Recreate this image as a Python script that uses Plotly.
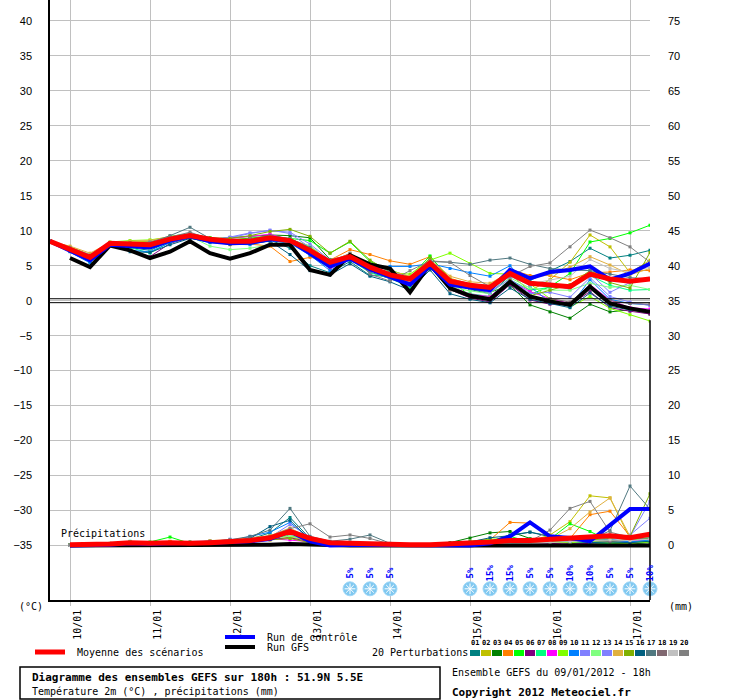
import plotly.graph_objects as go

# forecast steps (hours after 09/01/2012 18h)
hours = [0, 6, 12, 18, 24, 30, 36, 42, 48, 54, 60, 66, 72, 78, 84, 90,
         96, 102, 108, 114, 120, 126, 132, 138, 144, 150, 156, 162, 168, 174, 180]
day_hours = [6, 30, 54, 78, 102, 126, 150, 174]
day_labels = ["10/01", "11/01", "12/01", "13/01", "14/01", "15/01", "16/01", "17/01"]

# 2m temperature (°C)
mean_t = [8.5, 7.4, 6.2, 8.2, 8.1, 8.0, 8.8, 9.3, 8.8, 8.5, 8.5, 9.0, 8.6, 7.2, 5.5, 6.3,
          4.8, 3.7, 3.1, 5.4, 2.8, 2.2, 1.9, 3.9, 2.5, 2.2, 2.0, 3.8, 3.1, 2.8, 3.1]
control_t = [8.5, 7.2, 5.8, 8.0, 7.8, 7.6, 8.6, 9.2, 8.5, 8.2, 8.3, 8.8, 8.6, 6.8, 4.9, 6.0,
             4.5, 3.4, 2.3, 5.0, 2.3, 1.9, 1.5, 4.4, 3.2, 4.1, 4.4, 4.9, 3.0, 3.9, 5.3]
gfs_t = [None, 6.1, 4.8, 7.9, 7.2, 6.1, 7.0, 8.5, 6.8, 6.0, 6.8, 8.0, 8.0, 4.4, 3.7, 6.5,
         5.2, 4.6, 1.2, 5.2, 1.8, 0.7, 0.2, 2.7, 0.6, -0.1, -0.6, 2.0, -0.4, -1.1, -1.6]

t01 = [8.5, 7.3, 5.7, 8.1, 7.6, 7.2, 8.5, 9.3, 8.6, 8.2, 8.4, 8.7, 7.5, 5.0, 4.0, 5.6, 3.6, 3.5, 2.5, 5.2, 2.8, 1.6, 1.0, 3.6, 2.9, 4.3, 5.6, 7.5, 6.1, 6.5, 7.2]
t02 = [8.5, 7.7, 6.6, 8.3, 8.4, 8.5, 8.9, 9.2, 8.7, 8.6, 8.9, 9.3, 8.8, 7.8, 5.6, 6.7, 4.6, 4.0, 3.3, 5.6, 2.5, 2.0, 1.5, 3.8, 1.4, 3.0, 5.5, 9.4, 7.7, 4.0, 5.8]
t03 = [8.5, 7.4, 6.0, 8.2, 8.0, 7.9, 8.6, 9.0, 8.8, 9.0, 9.1, 9.4, 9.3, 9.0, 5.9, 6.4, 4.4, 3.6, 3.0, 5.8, 2.4, 1.7, 1.2, 2.2, -0.6, -1.6, -2.5, -0.5, -1.6, -1.3, -1.9]
t04 = [8.5, 7.6, 6.4, 8.2, 8.3, 8.2, 8.8, 9.4, 8.7, 8.0, 8.1, 7.8, 5.6, 6.2, 5.8, 7.3, 6.6, 5.7, 5.2, 6.3, 3.2, 2.4, 2.2, 4.5, 3.6, 3.6, 3.0, 4.0, 4.1, 4.4, 4.3]
t05 = [8.5, 7.2, 5.9, 8.2, 8.1, 8.2, 9.2, 9.6, 9.0, 8.7, 8.9, 9.2, 8.9, 8.6, 6.8, 8.4, 5.6, 4.4, 3.4, 6.4, 3.0, 0.7, 0.2, 2.6, 0.9, 2.0, 3.9, 8.4, 8.9, 9.7, 10.8]
t06 = [8.5, 7.1, 5.6, 8.1, 7.3, 6.3, 8.2, 9.0, 8.5, 8.3, 8.6, 9.0, 8.6, 6.9, 4.9, 6.1, 4.1, 3.1, 2.2, 4.9, 1.6, 0.4, -0.2, 2.3, 0.1, -0.5, -0.6, 1.3, -1.0, -1.5, -1.9]
t07 = [8.5, 7.2, 5.5, 8.1, 7.6, 6.8, 8.4, 9.2, 8.4, 8.3, 8.5, 8.9, 8.5, 6.6, 4.6, 5.9, 4.0, 3.2, 1.9, 5.7, 1.8, 1.0, 0.6, 3.0, 1.5, 1.9, 2.2, 3.6, 2.2, 1.5, 1.6]
t08 = [8.5, 7.5, 6.2, 8.3, 8.2, 8.0, 8.9, 9.6, 8.9, 8.9, 9.2, 9.5, 8.7, 7.3, 4.5, 6.3, 4.5, 3.3, 2.6, 5.2, 2.1, 0.9, 0.6, 2.9, 1.3, 0.3, -0.4, 2.3, 0.1, -1.0, -1.2]
t09 = [8.5, 7.6, 6.5, 8.4, 8.6, 8.7, 9.1, 9.4, 8.6, 8.4, 8.4, 8.7, 8.3, 7.7, 5.2, 6.0, 4.6, 4.0, 3.8, 5.8, 6.8, 5.3, 3.9, 3.8, 2.4, 0.3, -0.9, 0.6, -1.1, -2.0, -2.9]
t10 = [8.5, 7.0, 5.4, 8.0, 7.2, 7.0, 8.3, 9.0, 8.3, 8.1, 8.0, 8.6, 8.2, 6.5, 4.3, 6.0, 4.2, 4.9, 4.9, 5.3, 4.6, 4.0, 3.5, 5.0, 2.0, -0.2, -0.8, 3.0, 0.2, -0.4, -0.6]
t11 = [8.5, 7.6, 6.6, 8.2, 8.2, 8.3, 9.0, 9.6, 8.8, 9.0, 9.6, 10.1, 9.6, 7.6, 5.3, 6.5, 5.0, 3.9, 3.0, 5.6, 2.9, 2.1, 1.7, 3.5, 2.2, 2.4, 1.6, 3.9, 1.2, 2.6, 3.2]
t12 = [8.5, 7.3, 5.9, 8.2, 7.9, 7.4, 8.6, 9.2, 7.8, 7.3, 7.5, 8.0, 8.1, 7.9, 5.5, 6.6, 4.9, 3.7, 2.4, 5.0, 2.0, 1.4, 1.0, 3.3, 1.8, 1.5, 1.5, 2.5, 1.9, 2.2, 1.6]
t13 = [8.5, 7.5, 6.3, 8.2, 8.0, 8.1, 8.8, 9.5, 8.7, 9.1, 9.7, 10.0, 9.8, 8.1, 5.8, 6.6, 5.2, 4.2, 3.3, 5.9, 2.6, 1.8, 1.2, 3.1, 1.0, 1.2, 0.5, 3.3, 0.6, -0.2, -0.7]
t14 = [8.5, 7.8, 6.8, 8.3, 8.5, 8.6, 9.2, 9.4, 8.8, 8.4, 8.6, 8.9, 8.2, 7.1, 5.7, 6.7, 5.3, 4.3, 3.5, 5.9, 3.5, 2.7, 2.5, 4.0, 3.3, 3.7, 4.8, 6.3, 5.1, 3.7, 4.6]
t15 = [8.5, 7.4, 6.1, 8.3, 8.3, 8.2, 8.9, 9.5, 9.0, 8.9, 9.3, 9.9, 10.2, 9.2, 6.8, 8.5, 5.8, 4.1, 3.2, 6.1, 1.6, 0.8, 0.4, 2.9, 0.7, 1.5, 2.3, 4.3, 2.6, 1.8, 6.9]
t16 = [8.5, 7.1, 5.7, 8.0, 7.0, 6.9, 8.0, 8.9, 8.4, 8.1, 8.2, 8.5, 6.6, 4.3, 3.7, 5.3, 3.5, 2.7, 1.5, 4.4, 1.0, 0.2, -0.3, 1.8, 0.2, -0.4, -1.0, 1.1, -0.8, -1.3, -1.5]
t17 = [8.5, 7.4, 6.1, 8.3, 8.2, 8.3, 9.3, 10.5, 8.9, 8.6, 8.8, 9.3, 8.9, 7.6, 5.2, 6.4, 4.4, 4.2, 3.0, 5.6, 5.5, 5.2, 5.8, 6.1, 5.2, 4.6, 4.4, 4.3, 3.8, 3.3, 3.1]
t18 = [8.5, 7.3, 6.0, 8.2, 7.9, 7.9, 8.7, 9.3, 8.6, 8.4, 8.6, 8.9, 8.5, 6.8, 4.8, 6.1, 4.3, 3.4, 2.7, 5.4, 1.5, 0.7, 0.3, 2.6, 0.6, 0.3, -0.2, 2.2, 0.0, -0.4, -0.5]
t19 = [8.5, 7.5, 6.3, 8.3, 8.1, 8.2, 8.9, 9.4, 8.7, 8.5, 8.6, 9.1, 8.7, 7.1, 5.0, 6.2, 4.7, 3.5, 2.9, 5.5, 2.5, 1.9, 1.7, 3.9, 2.4, 2.9, 3.5, 5.9, 4.6, 4.1, 4.8]
t20 = [8.5, 7.6, 6.5, 8.2, 8.2, 8.4, 9.1, 9.8, 8.8, 8.6, 8.8, 9.2, 8.8, 7.4, 5.4, 6.8, 3.8, 2.8, 4.3, 5.7, 5.5, 3.6, 2.0, 3.4, 4.9, 5.4, 7.7, 10.1, 9.0, 7.7, 5.5]

# precipitation (mm)
mean_p = [None, 0.1, 0.1, 0.2, 0.4, 0.3, 0.4, 0.3, 0.4, 0.6, 0.7, 1.1, 2.0, 1.0, 0.4, 0.3,
          0.2, 0.1, 0.1, 0.1, 0.2, 0.3, 0.5, 0.7, 0.7, 0.9, 1.05, 1.3, 1.4, 1.1, 1.6]
control_p = [None, 0.0, 0.0, 0.1, 0.3, 0.2, 0.3, 0.3, 0.4, 0.5, 0.6, 0.9, 2.0, 0.6, 0.0, 0.1,
             0.1, 0.0, 0.0, 0.0, 0.0, 0.0, 0.3, 1.3, 3.3, 1.3, 1.05, 0.6, 2.9, 5.2, 5.2]
gfs_p = [None, 0.0, 0.0, 0.0, 0.1, 0.0, 0.0, 0.0, 0.1, 0.0, 0.0, 0.1, 0.2, 0.1, 0.0, 0.0,
         0.0, 0.0, 0.0, 0.0, 0.0, 0.0, 0.0, 0.0, 0.0, 0.0, 0.0, 0.0, 0.0, 0.0, 0.0]

p01 = [None, 0.1, 0.0, 0.2, 0.5, 0.3, 0.3, 0.2, 0.4, 0.6, 0.9, 1.8, 4.0, 1.0, 0.3, 0.2, 0.1, 0.0, 0.0, 0.0, 0.1, 0.3, 0.6, 1.5, 1.9, 1.3, 0.8, 0.5, 0.4, 0.6, 0.8]
p02 = [None, 0.0, 0.1, 0.2, 0.3, 0.2, 0.5, 0.3, 0.6, 0.5, 0.8, 1.2, 2.0, 0.9, 0.4, 0.2, 0.1, 0.1, 0.0, 0.0, 0.0, 0.2, 0.3, 0.5, 0.6, 1.5, 3.4, 7.1, 6.8, 1.0, 1.1]
p03 = [None, 0.0, 0.0, 0.1, 0.3, 0.2, 0.2, 0.5, 0.3, 0.4, 0.6, 1.0, 1.5, 0.6, 0.2, 0.1, 0.1, 0.0, 0.1, 0.0, 0.4, 1.05, 1.8, 2.0, 1.0, 0.6, 0.3, 0.2, 0.3, 0.2, 0.4]
p04 = [None, 0.1, 0.0, 0.3, 0.4, 0.2, 0.6, 0.4, 0.5, 0.8, 1.0, 0.8, 1.2, 0.7, 0.3, 0.1, 0.2, 0.1, 0.0, 0.1, 0.2, 0.3, 0.8, 3.3, 3.2, 1.3, 1.0, 4.4, 4.9, 1.3, 1.7]
p05 = [None, 0.1, 0.1, 0.2, 0.4, 0.5, 1.2, 0.3, 0.5, 0.6, 0.9, 1.3, 1.6, 0.8, 0.5, 0.2, 0.1, 0.1, 0.0, 0.0, 0.2, 0.4, 0.6, 1.3, 0.5, 0.9, 3.1, 2.0, 0.6, 0.8, 1.0]
p06 = [None, 0.0, 0.0, 0.2, 0.2, 0.3, 0.3, 0.2, 0.4, 0.5, 0.6, 0.9, 1.1, 0.5, 0.2, 0.1, 0.0, 0.0, 0.0, 0.0, 0.1, 0.1, 0.2, 0.3, 0.4, 0.3, 0.2, 0.3, 0.5, 0.4, 0.6]
p07 = [None, 0.1, 0.0, 0.3, 0.6, 0.4, 0.4, 0.3, 0.5, 0.7, 0.9, 1.4, 1.8, 0.8, 0.4, 0.2, 0.1, 0.0, 0.0, 0.0, 0.1, 0.2, 0.4, 0.9, 0.8, 0.6, 0.5, 0.4, 0.3, 0.5, 0.7]
p08 = [None, 0.0, 0.1, 0.2, 0.3, 0.3, 0.4, 0.4, 0.6, 0.7, 1.2, 1.0, 0.8, 0.5, 0.3, 0.1, 0.1, 0.0, 0.0, 0.0, 0.1, 0.2, 0.3, 0.4, 0.5, 0.7, 0.6, 0.5, 0.8, 0.6, 0.9]
p09 = [None, 0.1, 0.1, 0.2, 0.4, 0.3, 0.5, 0.4, 0.5, 0.6, 0.8, 1.1, 1.4, 0.6, 0.3, 0.2, 0.1, 0.1, 0.0, 0.0, 0.2, 0.6, 0.9, 1.0, 0.7, 0.5, 0.4, 0.6, 0.4, 0.3, 0.5]
p10 = [None, 0.0, 0.0, 0.1, 0.3, 0.2, 0.3, 0.2, 0.4, 0.6, 1.3, 1.9, 3.3, 0.9, 0.4, 0.1, 0.0, 0.0, 0.0, 0.0, 0.1, 0.2, 0.3, 0.6, 0.8, 0.7, 0.6, 0.7, 0.9, 0.5, 0.8]
p11 = [None, 0.0, 0.1, 0.2, 0.3, 0.2, 0.4, 0.3, 0.5, 0.9, 0.8, 1.2, 3.0, 1.2, 0.5, 0.3, 0.2, 0.1, 0.0, 0.0, 0.1, 0.2, 0.3, 0.5, 0.6, 0.8, 1.1, 0.9, 1.0, 1.3, 6.3]
p12 = [None, 0.1, 0.0, 0.2, 0.5, 0.3, 0.4, 0.4, 0.6, 0.5, 0.7, 1.0, 1.3, 0.7, 0.2, 0.2, 0.1, 0.0, 0.0, 0.0, 0.1, 0.3, 0.4, 0.7, 0.9, 0.8, 0.7, 0.6, 0.7, 0.8, 1.2]
p13 = [None, 0.0, 0.0, 0.1, 0.3, 0.2, 0.3, 0.3, 0.4, 0.6, 0.9, 1.1, 2.2, 0.9, 0.4, 0.2, 0.1, 0.0, 0.0, 0.0, 0.0, 0.1, 0.2, 0.4, 0.5, 0.6, 0.9, 1.2, 1.1, 1.5, 3.9]
p14 = [None, 0.1, 0.1, 0.2, 0.4, 0.3, 0.5, 0.3, 0.7, 0.8, 1.1, 1.4, 2.5, 1.0, 0.4, 0.2, 0.1, 0.1, 0.0, 0.0, 0.1, 0.2, 0.4, 0.6, 0.7, 0.9, 2.4, 4.8, 6.8, 1.3, 1.5]
p15 = [None, 0.0, 0.1, 0.1, 0.2, 0.2, 0.3, 0.2, 0.3, 0.4, 0.6, 0.8, 1.0, 0.4, 0.2, 0.1, 0.0, 0.0, 0.0, 0.0, 0.1, 0.1, 0.2, 0.3, 0.4, 0.5, 0.7, 0.8, 1.0, 1.3, 7.4]
p16 = [None, 0.0, 0.0, 0.1, 0.3, 0.2, 0.3, 0.2, 0.4, 0.6, 1.0, 2.7, 3.6, 0.8, 0.4, 0.3, 0.2, 0.0, 0.0, 0.0, 0.2, 0.5, 1.1, 1.4, 1.9, 1.2, 0.6, 0.4, 0.5, 0.4, 0.6]
p17 = [None, 0.1, 0.0, 0.2, 0.4, 0.3, 0.4, 0.4, 0.6, 0.8, 1.3, 2.2, 5.3, 1.3, 0.6, 0.9, 1.5, 0.3, 0.1, 0.0, 0.1, 0.2, 0.3, 0.5, 0.6, 0.7, 0.9, 0.8, 2.1, 8.5, 5.2]
p18 = [None, 0.0, 0.1, 0.2, 0.3, 0.2, 0.3, 0.3, 0.5, 0.6, 0.8, 1.0, 1.7, 0.7, 0.3, 0.2, 0.1, 0.0, 0.0, 0.0, 0.1, 0.2, 0.3, 0.4, 0.5, 0.6, 0.8, 0.7, 0.6, 0.9, 1.1]
p19 = [None, 0.0, 0.0, 0.1, 0.2, 0.2, 0.3, 0.2, 0.4, 0.5, 0.7, 1.0, 1.6, 0.6, 0.3, 0.1, 0.1, 0.0, 0.0, 0.0, 0.1, 0.1, 0.2, 0.3, 0.3, 0.4, 0.5, 0.6, 0.8, 0.7, 0.9]
p20 = [None, 0.1, 0.1, 0.2, 0.4, 0.3, 0.4, 0.3, 0.5, 0.7, 0.9, 1.3, 2.4, 3.1, 1.2, 1.5, 1.0, 0.2, 0.1, 0.0, 0.1, 0.2, 0.4, 0.6, 0.6, 2.2, 5.3, 6.3, 1.9, 1.2, 1.4]

pert_colors = ["#008080", "#c0c000", "#008000", "#ff8000", "#00ff00", "#800080", "#00ff80",
               "#ff00ff", "#80ff00", "#0080ff", "#8080ff", "#80ff80", "#8080ff", "#e0b040",
               "#80b000", "#006080", "#507880", "#806870", "#c0c0c0", "#808080"]

# snow probability icons
snow_hours = [90, 96, 102, 126, 132, 138, 144, 150, 156, 162, 168, 174, 180]
snow_prob = [5, 5, 5, 5, 15, 15, 5, 5, 10, 10, 5, 5, 10]

MONO = "DejaVu Sans Mono"
SANS = "Liberation Sans"


def px_x(p):
    return (p - 50) / 600.0


def px_y(p):
    return (600 - p) / 600.0


def label(px, py, text, size=10, anchor="left"):
    return dict(x=px_x(px), y=px_y(py), xref="paper", yref="paper", text=text,
                xanchor=anchor, yanchor="middle", showarrow=False,
                font=dict(family=MONO, size=size, color="black"))


pert_t = [t01, t02, t03, t04, t05, t06, t07, t08, t09, t10,
          t11, t12, t13, t14, t15, t16, t17, t18, t19, t20]
pert_p = [p01, p02, p03, p04, p05, p06, p07, p08, p09, p10,
          p11, p12, p13, p14, p15, p16, p17, p18, p19, p20]

fig = go.Figure()

for ser_t, ser_p, col in zip(pert_t, pert_p, pert_colors):
    for ser, ax in ((ser_t, "y"), (ser_p, "y2")):
        fig.add_trace(go.Scatter(x=hours, y=ser, yaxis=ax, mode="lines+markers",
                                 line=dict(color=col, width=1),
                                 marker=dict(color=col, size=3, symbol="square"),
                                 showlegend=False, hoverinfo="skip"))

for ser_t, ser_p, col, w in ((gfs_t, gfs_p, "black", 4), (control_t, control_p, "#0000ff", 4),
                             (mean_t, mean_p, "#ff0000", 5)):
    fig.add_trace(go.Scatter(x=hours, y=ser_t, mode="lines", line=dict(color=col, width=w),
                             showlegend=False))
    fig.add_trace(go.Scatter(x=hours, y=ser_p, yaxis="y2", mode="lines",
                             line=dict(color=col, width=w), showlegend=False))

# snowflakes
snow_y = [-41.2] * len(snow_hours)
fig.add_trace(go.Scatter(x=snow_hours, y=snow_y, mode="markers", cliponaxis=False,
                         marker=dict(color="#80c8f0", size=14, symbol="circle",
                                     line=dict(color="#a0d8f8", width=1)),
                         showlegend=False))
fig.add_trace(go.Scatter(x=snow_hours, y=snow_y, mode="markers", cliponaxis=False,
                         marker=dict(color="white", size=9, symbol="asterisk-open",
                                     line=dict(color="white", width=1)),
                         showlegend=False))

ann = []
for h, pr in zip(snow_hours, snow_prob):
    ann.append(dict(x=h, y=-39.0, xref="x", yref="y", text="<b>%d%%</b>" % pr,
                    textangle=-90, showarrow=False,
                    font=dict(family=MONO, size=9, color="#0000ff")))

ann.append(dict(x=2.7, y=-33.3, xref="x", yref="y", text="Précipitations", showarrow=False,
                xanchor="left", font=dict(family=MONO, size=10, color="black")))
ann.append(label(31, 606, "(°C)", anchor="center"))
ann.append(label(681, 606, "(mm)", anchor="center"))

# legend block
shapes = []
for col, x0, x1, yy, w, text in (("#ff0000", 35, 65, 652, 5, "Moyenne des scénarios"),
                                 ("#0000ff", 225, 255, 637, 4, "Run de contrôle"),
                                 ("black", 225, 255, 647, 4, "Run GFS")):
    shapes.append(dict(type="line", xref="paper", yref="paper", x0=px_x(x0), x1=px_x(x1),
                       y0=px_y(yy), y1=px_y(yy), line=dict(color=col, width=w)))
    ann.append(label(x1 + 10, yy, text))

ann.append(label(370, 652, "20 Perturbations"))
for k, col in enumerate(pert_colors):
    left = 470 + 11 * k
    shapes.append(dict(type="rect", xref="paper", yref="paper", x0=px_x(left),
                       x1=px_x(left + 10), y0=px_y(650), y1=px_y(656),
                       fillcolor=col, line=dict(width=0)))
    ann.append(label(left + 5, 643, "<b>%02d</b>" % (k + 1), size=7, anchor="center"))

shapes.append(dict(type="rect", xref="paper", yref="paper", x0=px_x(20), x1=px_x(440),
                   y0=px_y(667), y1=px_y(699), line=dict(color="black", width=1.5)))
ann.append(label(30, 677, "<b>Diagramme des ensembles GEFS sur 180h : 51.9N 5.5E</b>", size=11))
ann.append(label(30, 691, "Température 2m (°C) , précipitations (mm)"))
ann.append(label(450, 672, "Ensemble GEFS du 09/01/2012 - 18h"))
ann.append(label(450, 692, "<b>Copyright 2012 Meteociel.fr</b>", size=11))

# double zero line and partial right border
for yy in (0.28, -0.28):
    shapes.append(dict(type="line", xref="x", yref="y", x0=0, x1=180, y0=yy, y1=yy,
                       line=dict(color="black", width=1)))
shapes.append(dict(type="line", xref="paper", yref="y", x0=1, x1=1, y0=-42.8, y1=-2.8,
                   line=dict(color="black", width=1.5)))

fig.update_layout(
    width=740, height=700,
    margin=dict(l=50, r=90, t=0, b=100),
    paper_bgcolor="white", plot_bgcolor="white",
    showlegend=False,
    annotations=ann, shapes=shapes,
    xaxis=dict(range=[0, 180], tickvals=day_hours, ticktext=day_labels, tickangle=-90,
               showgrid=True, gridcolor="#c0c0c0", gridwidth=1, zeroline=False,
               showline=True, linecolor="black", linewidth=1.5,
               ticks="outside", ticklen=4, tickcolor="#c0c0c0", ticklabelshift=8,
               tickfont=dict(family=MONO, size=10, color="black")),
    yaxis=dict(range=[-42.8, 43.0], tickvals=list(range(-35, 41, 5)),
               showgrid=True, gridcolor="#c0c0c0", gridwidth=1, zeroline=False,
               showline=True, linecolor="black", linewidth=1.5, ticks="",
               ticklabelstandoff=14, tickfont=dict(family=SANS, size=11, color="black")),
    yaxis2=dict(range=[-7.8, 78.0], tickvals=list(range(0, 76, 5)), overlaying="y",
                side="right", showgrid=False, zeroline=False, showline=False, ticks="",
                ticklabelstandoff=17, tickfont=dict(family=SANS, size=11, color="black")),
)

# browser default body margin would shift the whole figure by 8px
fig.write_html("out.html", config={"displayModeBar": False},
               post_script="document.body.style.margin='0';")
